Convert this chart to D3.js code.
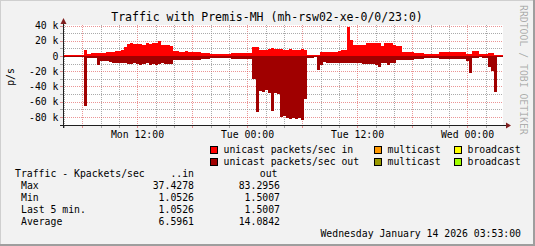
<!DOCTYPE html>
<html><head><meta charset="utf-8">
<script src="https://cdn.jsdelivr.net/npm/d3@7"></script>
<style>
html,body{margin:0;padding:0;background:#F2F2F2;}
svg{display:block;}
text{font-family:"DejaVu Sans Mono",monospace;fill:#000;}
</style></head><body>
<svg id="chart" width="535" height="246"></svg>
<script>
// ---------- data ----------
const title = "Traffic with Premis-MH (mh-rsw02-xe-0/0/23:0)";
const yAxisLabel = "p/s";
const startTime = new Date(2026, 0, 12, 3, 53);
const endTime = new Date(2026, 0, 14, 3, 53);
const stepMinutes = 20;

// unicast packets/sec in (thousands), one value per 20 min
const unicastIn = [
  1.6, 1.7, 1.8, 1.7, 1.6, 1.8, 1.7, 8.2, 3.0, 3.4,
  3.6, 3.5, 4.2, 4.5, 4.6, 5.0, 5.6, 6.0, 6.4, 7.5,
  11.5, 15.8, 16.5, 15.2, 16.0, 15.5, 15.0, 17.5, 15.5, 16.5,
  17.0, 20.0, 15.0, 14.0, 14.5, 13.5, 7.0, 6.0, 5.5, 5.8,
  6.2, 5.6, 5.9, 5.4, 5.7, 4.4, 4.2, 4.5, 2.8, 2.5,
  2.6, 2.7, 2.5, 2.6, 3.0, 3.8, 4.2, 4.0, 4.1, 3.9,
  4.3, 4.0, 11.5, 12.3, 8.2, 7.8, 8.0, 9.8, 10.3, 8.8,
  8.6, 9.0, 8.5, 8.4, 8.6, 8.3, 8.5, 8.4, 8.6, 8.5,
  1.8, 1.6, 1.9, 1.7, 4.6, 4.9, 5.0, 5.6, 5.8, 5.9,
  6.0, 8.4, 8.4, 37.4, 20.6, 14.2, 14.8, 14.4, 14.6, 16.5,
  17.2, 16.8, 17.0, 16.6, 13.5, 17.2, 16.8, 17.4, 14.0, 12.5,
  12.5, 5.5, 5.5, 5.5, 5.0, 4.4, 4.3, 4.5, 2.6, 2.6,
  2.6, 2.6, 2.6, 4.7, 4.9, 4.8, 5.0, 4.6, 4.8, 4.9,
  4.7, 4.8, 2.6, 2.6, 7.0, 7.0, 2.6, 2.6, 2.6, 4.4,
  4.4, 1.7, 1.1, 1.05
];
// unicast packets/sec out (thousands), drawn below zero
const unicastOut = [
  1.8, 1.8, 1.9, 1.8, 1.7, 1.8, 1.9, 66.0, 3.2, 2.9,
  3.1, 12.0, 6.8, 7.2, 7.0, 8.5, 9.2, 8.8, 9.5, 9.0,
  9.3, 10.2, 11.0, 9.5, 10.5, 11.5, 10.0, 9.8, 11.2, 10.4,
  12.0, 10.6, 9.7, 11.0, 10.3, 10.8, 5.5, 5.0, 5.6, 5.2,
  5.4, 5.1, 5.5, 5.3, 5.2, 3.5, 3.6, 3.4, 2.6, 2.7,
  2.5, 2.6, 2.7, 2.6, 2.5, 4.0, 4.1, 3.9, 4.0, 4.2,
  4.0, 4.0, 30.0, 74.0, 46.0, 47.0, 45.0, 48.0, 72.0, 48.0,
  50.0, 80.5, 79.0, 81.0, 82.0, 81.5, 82.0, 81.8, 83.3, 57.0,
  2.0, 2.1, 1.9, 18.0, 12.0, 8.5, 9.2, 8.8, 9.5, 9.0,
  8.7, 9.2, 8.8, 9.5, 9.0, 9.3, 8.9, 9.4, 10.5, 11.0,
  10.2, 10.8, 11.2, 15.0, 9.0, 9.5, 12.0, 9.2, 8.8, 4.8,
  4.9, 4.7, 4.8, 4.9, 4.8, 4.0, 4.1, 3.9, 2.6, 2.7,
  2.5, 2.6, 2.6, 4.0, 4.2, 3.9, 4.1, 4.0, 3.8, 4.2,
  4.0, 4.1, 7.0, 22.0, 2.0, 2.1, 1.9, 2.0, 2.1, 14.0,
  20.0, 46.6, 1.6, 1.5
];

const yTicks = [40000, 20000, 0, -20000, -40000, -60000, -80000];
const yMinorStep = 10000;
const yDomain = [-90500, 40660];

const legendNames = ["unicast packets/sec in", "multicast", "broadcast",
                     "unicast packets/sec out", "multicast", "broadcast"];
const legendColors = ["#FF0000", "#FF9900", "#FFFF00",
                      "#A00000", "#999900", "#A0FF00"];

const statsHeader = ["Traffic - Kpackets/sec", "..in", "out"];
const statsLabels = ["Max", "Min", "Last 5 min.", "Average"];
const statsIn = ["37.4278", "1.0526", "1.0526", "6.5961"];
const statsOut = ["83.2956", "1.5007", "1.5007", "14.0842"];
const footer = "Wednesday January 14 2026 03:53:00";
const watermark = "RRDTOOL / TOBI OETIKER";

// ---------- drawing ----------
const W = 535, H = 246;
const P = {left: 63, right: 503, top: 25, bottom: 125};
const svg = d3.select("#chart");
const FS = "9.8px";

const x = d3.scaleTime().domain([startTime, endTime]).range([P.left, P.right]);
const y = d3.scaleLinear().domain(yDomain).range([P.bottom, P.top]);

// background + frame
svg.append("rect").attr("width", W).attr("height", H).attr("fill", "#F2F2F2");
svg.append("path").attr("d", `M0,${H}V0H${W}`).attr("fill", "none")
  .attr("stroke", "#CFCFCF").attr("stroke-width", 2).attr("shape-rendering", "crispEdges");
svg.append("path").attr("d", `M0,${H-1}H${W-1}V0`).attr("fill", "none")
  .attr("stroke", "#9E9E9E").attr("stroke-width", 2).attr("shape-rendering", "crispEdges");

// canvas
svg.append("rect").attr("x", P.left).attr("y", P.top)
  .attr("width", P.right - P.left).attr("height", P.bottom - P.top).attr("fill", "#FFFFFF");

const gridMinor = "rgba(143,143,143,0.75)";
const gridMajor = "rgba(222,79,79,0.6)";
const g = svg.append("g").attr("shape-rendering", "crispEdges");

// vertical grid
const hours2 = d3.timeHour.every(2).range(startTime, endTime);
hours2.forEach(t => {
  const major = t.getHours() % 6 === 0;
  const px = Math.round(x(t)) + 0.5;
  g.append("line").attr("x1", px).attr("x2", px).attr("y1", P.top).attr("y2", P.bottom)
    .attr("stroke", major ? gridMajor : gridMinor).attr("stroke-dasharray", "1,1");
  g.append("line").attr("x1", px).attr("x2", px).attr("y1", P.bottom).attr("y2", P.bottom + 3)
    .attr("stroke", major ? gridMajor : gridMinor);
});
// horizontal grid
const yLines = d3.range(Math.ceil(yDomain[0] / yMinorStep) * yMinorStep, yDomain[1], yMinorStep);
yLines.forEach(v => {
  const major = yTicks.includes(v);
  const py = Math.round(y(v)) + 0.5;
  g.append("line").attr("x1", P.left).attr("x2", P.right).attr("y1", py).attr("y2", py)
    .attr("stroke", major ? gridMajor : gridMinor).attr("stroke-dasharray", "1,1");
  g.append("line").attr("x1", P.left - 3).attr("x2", P.left).attr("y1", py).attr("y2", py)
    .attr("stroke", major ? gridMajor : gridMinor);
});

// series
function pts(arr, sign) {
  const p = arr.map((v, i) => ({t: d3.timeMinute.offset(startTime, i * stepMinutes), v: sign * v * 1000}));
  p.push({t: endTime, v: p[p.length - 1].v});
  return p;
}
const area = d3.area().x(d => x(d.t)).y0(y(0)).y1(d => y(d.v)).curve(d3.curveStepAfter);
svg.append("path").datum(pts(unicastIn, 1)).attr("d", area)
  .attr("fill", legendColors[0]).attr("shape-rendering", "crispEdges");
svg.append("path").datum(pts(unicastOut, -1)).attr("d", area)
  .attr("fill", legendColors[3]).attr("shape-rendering", "crispEdges");

// axes
const axisCol = "#1F1F1F", arrowCol = "#801F1F";
svg.append("line").attr("x1", P.left - 3).attr("x2", P.right + 3)
  .attr("y1", P.bottom + 0.5).attr("y2", P.bottom + 0.5)
  .attr("stroke", axisCol).attr("shape-rendering", "crispEdges");
svg.append("line").attr("x1", P.left + 0.5).attr("x2", P.left + 0.5)
  .attr("y1", P.bottom + 3).attr("y2", P.top - 2)
  .attr("stroke", axisCol).attr("shape-rendering", "crispEdges");
svg.append("path").attr("d", `M${P.right + 3},${P.bottom - 2.5}L${P.right + 8},${P.bottom + 0.5}L${P.right + 3},${P.bottom + 3.5}Z`)
  .attr("fill", arrowCol);
svg.append("path").attr("d", `M${P.left - 2.5},${P.top - 1}L${P.left + 0.5},${P.top - 7}L${P.left + 3.5},${P.top - 1}Z`)
  .attr("fill", arrowCol);

// axis labels
const fmtX = d3.timeFormat("%a %H:%M");
d3.timeHour.every(12).range(startTime, endTime).forEach(t => {
  svg.append("text").attr("x", Math.round(x(t)) + 0.5).attr("y", 138)
    .attr("text-anchor", "middle").attr("font-size", FS).text(fmtX(t));
});
yTicks.forEach(v => {
  svg.append("text").attr("x", 58.5).attr("y", y(v) + 3.6)
    .attr("text-anchor", "end").attr("font-size", FS)
    .text(v === 0 ? "0" : (v / 1000) + " k");
});
svg.append("text").attr("transform", "translate(14,77) rotate(-90)")
  .attr("text-anchor", "middle").attr("font-size", FS).text(yAxisLabel);

// title
svg.append("text").attr("x", 267).attr("y", 21).attr("text-anchor", "middle")
  .attr("font-size", "11.5px").text(title);

// watermark
svg.append("text").attr("transform", "translate(520,5) rotate(90)")
  .attr("font-size", FS).style("fill", "rgba(0,0,0,0.3)").text(watermark);

// legend
const legX = [210.5, 374.5, 454.5];
const legY = [152.5, 164.5];
legendNames.forEach((name, i) => {
  const col = i % 3, row = Math.floor(i / 3);
  svg.append("rect").attr("x", legX[col]).attr("y", legY[row] - 6)
    .attr("width", 7).attr("height", 7)
    .attr("fill", legendColors[i]).attr("stroke", "#000").attr("stroke-width", 1)
    .attr("shape-rendering", "crispEdges");
  svg.append("text").attr("x", legX[col] + 13).attr("y", legY[row])
    .attr("font-size", FS).text(name);
});

// stats table
svg.append("text").attr("x", 15).attr("y", 176.5).attr("font-size", FS).text(statsHeader[0]);
svg.append("text").attr("x", 194).attr("y", 176.5).attr("text-anchor", "end").attr("font-size", FS).text(statsHeader[1]);
svg.append("text").attr("x", 277.5).attr("y", 176.5).attr("text-anchor", "end").attr("font-size", FS).text(statsHeader[2]);
statsLabels.forEach((lab, i) => {
  const by = 188.5 + i * 12;
  svg.append("text").attr("x", 21).attr("y", by).attr("font-size", FS).text(lab);
  svg.append("text").attr("x", 194).attr("y", by).attr("text-anchor", "end").attr("font-size", FS).text(statsIn[i]);
  svg.append("text").attr("x", 280).attr("y", by).attr("text-anchor", "end").attr("font-size", FS).text(statsOut[i]);
});

// footer
svg.append("text").attr("x", 521).attr("y", 236.5).attr("text-anchor", "end")
  .attr("font-size", FS).text(footer);
</script>
</body></html>
